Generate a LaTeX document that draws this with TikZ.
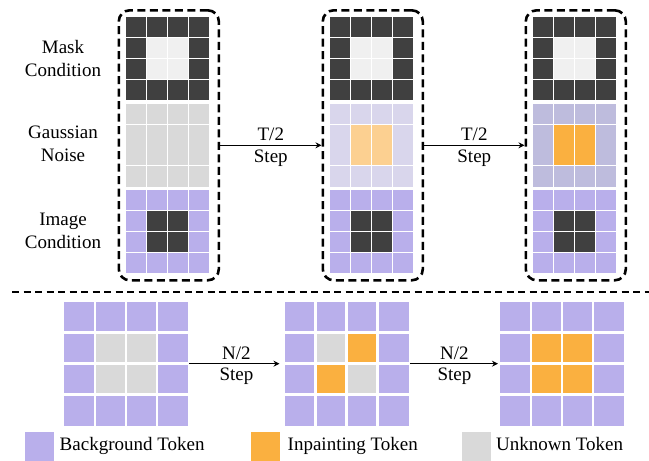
\documentclass[tikz,border=0pt]{standalone}
\usepackage{fontspec}
\setmainfont{Liberation Serif}
\usetikzlibrary{arrows.meta,positioning}

\definecolor{darktok}{HTML}{404040}
\definecolor{masktok}{HTML}{F0F0F0}
\definecolor{unktok}{HTML}{D9D9D9}
\definecolor{bgtok}{HTML}{B9AFEB}
\definecolor{inptok}{HTML}{FAB040}
\definecolor{inplight}{HTML}{FCD091}
\definecolor{noisemid}{HTML}{D9D6EC}
\definecolor{noiselate}{HTML}{BEBCDD}

\tikzset{
  colbox/.style={rectangle, draw, line width=2.6pt, dash pattern=on 8pt off 4.5pt, rounded corners=11pt, minimum width=100pt, minimum height=270pt, anchor=north west},
  smallgrid/.style={rectangle, inner sep=0pt, minimum size=83pt, anchor=north west},
  biggrid/.style={rectangle, inner sep=0pt, minimum size=124pt, anchor=north west},
  keybox/.style={rectangle, inner sep=0pt, minimum size=29pt},
  keytext/.style={text height=13pt, text depth=4pt},
  flow/.style={-{Stealth[length=6pt,width=6pt]}, line width=1.4pt},
  stepfont/.style={font=\fontsize{19}{22}\selectfont, inner sep=3.5pt}
}

% white gaps between the tokens: x, y, size, horizontal lines, width
\newcommand{\gridlines}[5]{%
  \foreach \k in {1,2,3} {\draw[white, line width=#5] ({#1+\k*#3/4},#2) -- ++(0,#3);}
  \foreach \k in {#4} {\draw[white, line width=#5] (#1,{#2+\k*#3/4}) -- ++(#3,0);}
}

\begin{document}
\begin{tikzpicture}[x=1pt, y=-1pt, font=\fontsize{19}{23}\selectfont]
\useasboundingbox (0,0) rectangle (649,461);

\node [align=center] (maskLbl) at (63,58) {Mask\\Condition};
\node [align=center] (noiseLbl) at (63,144) {Gaussian\\Noise};
\node [align=center] (imageLbl) at (63,231) {Image\\Condition};

% first column
\node (colA) [colbox] at (117.5,9) {};
\node (maskA) [smallgrid, fill=darktok] at (126,17) {};
\fill[masktok] (146.75,37.75) rectangle ++(41.5,41.5);
\gridlines{126}{17}{83}{1,2,3}{1.3pt}
\node (noiseA) [smallgrid, fill=unktok] at (126,103.5) {};
\gridlines{126}{103.5}{83}{1,3}{1.3pt}
\node (imageA) [smallgrid, fill=bgtok] at (126,190) {};
\fill[darktok] (146.75,210.75) rectangle ++(41.5,41.5);
\gridlines{126}{190}{83}{1,2,3}{1.3pt}

% second column
\node (colB) [colbox] at (321.5,9) {};
\node (maskB) [smallgrid, fill=darktok] at (330,17) {};
\fill[masktok] (350.75,37.75) rectangle ++(41.5,41.5);
\gridlines{330}{17}{83}{1,2,3}{1.3pt}
\node (noiseB) [smallgrid, fill=noisemid] at (330,103.5) {};
\fill[inplight] (350.75,124.25) rectangle ++(41.5,41.5);
\gridlines{330}{103.5}{83}{1,3}{1.3pt}
\node (imageB) [smallgrid, fill=bgtok] at (330,190) {};
\fill[darktok] (350.75,210.75) rectangle ++(41.5,41.5);
\gridlines{330}{190}{83}{1,2,3}{1.3pt}

% third column
\node (colC) [colbox] at (524.5,9) {};
\node (maskC) [smallgrid, fill=darktok] at (533,17) {};
\fill[masktok] (553.75,37.75) rectangle ++(41.5,41.5);
\gridlines{533}{17}{83}{1,2,3}{1.3pt}
\node (noiseC) [smallgrid, fill=noiselate] at (533,103.5) {};
\fill[inptok] (553.75,124.25) rectangle ++(41.5,41.5);
\gridlines{533}{103.5}{83}{1,3}{1.3pt}
\node (imageC) [smallgrid, fill=bgtok] at (533,190) {};
\fill[darktok] (553.75,210.75) rectangle ++(41.5,41.5);
\gridlines{533}{190}{83}{1,2,3}{1.3pt}

\draw[flow] (colA) -- node[stepfont, above] {T/2} node[stepfont, below] {Step} (colB);
\draw[flow] (colB) -- node[stepfont, above] {T/2} node[stepfont, below] {Step} (colC);

\draw[line width=2.2pt, dash pattern=on 7pt off 4.5pt] (12,292) -- (649,292);

% token grids
\node (gridA) [biggrid, fill=bgtok] at (64,301.5) {};
\fill[unktok] (95,332.5) rectangle ++(62,62);
\gridlines{64}{301.5}{124}{1,2,3}{2.6pt}

\node (gridB) [biggrid, fill=bgtok] at (284.5,301.5) {};
\fill[unktok] (315.5,332.5) rectangle ++(62,62);
\fill[inptok] (346.5,332.5) rectangle ++(31,31);
\fill[inptok] (315.5,363.5) rectangle ++(31,31);
\gridlines{284.5}{301.5}{124}{1,2,3}{2.6pt}

\node (gridC) [biggrid, fill=bgtok] at (500,301.5) {};
\fill[inptok] (531,332.5) rectangle ++(62,62);
\gridlines{500}{301.5}{124}{1,2,3}{2.6pt}

\draw[flow, shorten <=1pt, shorten >=5pt] (gridA) -- node[stepfont, above] {N/2} node[stepfont, below] {Step} (gridB);
\draw[flow, shorten <=1pt, shorten >=2pt] (gridB) -- node[stepfont, above] {N/2} node[stepfont, below] {Step} (gridC);

% legend
\node (keyBg) [keybox, fill=bgtok] at (39.5,446) {};
\node (lblBg) [keytext, right=2pt of keyBg] {Background Token};
\node (keyInp) [keybox, fill=inptok] at (265.5,446) {};
\node (lblInp) [keytext, right=4pt of keyInp] {Inpainting Token};
\node (keyUnk) [keybox, fill=unktok] at (476,446) {};
\node (lblUnk) [keytext, right=2pt of keyUnk] {Unknown Token};
\end{tikzpicture}
\end{document}
